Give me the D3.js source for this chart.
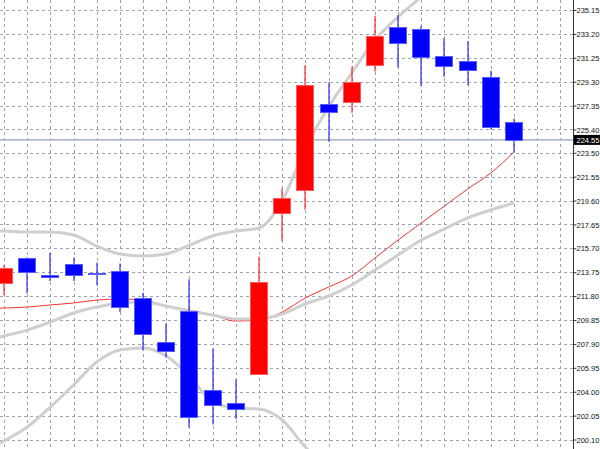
<!DOCTYPE html>
<html>
<head>
<meta charset="utf-8">
<script src="https://cdn.jsdelivr.net/npm/d3@7"></script>
<style>
  body { margin: 0; background: #fff; }
  svg { display: block; }
  .axis text { font-family: "Liberation Sans", Arial, sans-serif; font-size: 7.5px; fill: #111; }
</style>
</head>
<body>
<div class="chart"></div>
<script>
const W = 600, H = 449;
const plotRight = 573;

// candles: open, high, low, close (bar 0 .. 22)
const opens  = [212.85, 214.89, 213.54, 214.44, 213.70, 213.85, 211.62, 208.05, 210.56, 204.14, 203.10, 205.45,
                218.62, 220.50, 227.45, 227.61, 230.66, 233.79, 233.57, 231.39, 231.01, 229.65, 225.97];
const highs  = [214.32, 214.97, 215.32, 214.95, 214.54, 214.46, 212.08, 209.58, 213.17, 207.51, 205.00, 215.02,
                220.58, 230.66, 229.24, 230.52, 234.68, 234.74, 233.84, 232.84, 232.62, 230.19, 226.30];
const lows   = [211.87, 212.03, 213.03, 213.03, 212.68, 210.50, 207.40, 206.80, 201.08, 201.33, 201.77, 205.40,
                216.30, 218.87, 224.39, 226.76, 230.11, 230.47, 228.97, 229.70, 229.02, 225.40, 223.57];
const closes = [214.07, 213.74, 213.38, 213.56, 213.68, 210.91, 208.68, 207.31, 201.92, 202.91, 202.55, 212.93,
                219.82, 229.02, 226.84, 229.29, 233.03, 232.43, 231.29, 230.57, 230.25, 225.62, 224.55];

// moving average (red) and bands (gray), starting one bar before bar 0 (off the left edge)
const maRed   = [210.76, 210.83, 210.91, 211.08, 211.24, 211.48, 211.56, 211.48, 210.99, 210.67, 210.26, 209.77, 209.85,
                 210.50, 211.65, 212.54, 213.44, 214.91, 216.38, 217.77, 219.15, 220.54, 221.85, 223.56];
const bandMid = [208.10, 208.55, 209.03, 209.69, 210.42, 210.91, 211.24, 211.32, 210.99, 210.59, 210.26, 209.93, 209.93,
                 210.34, 211.16, 211.81, 212.71, 213.93, 215.16, 216.38, 217.28, 218.18, 218.83, 219.40];
const bandUp  = [217.15, 217.11, 217.03, 217.03, 216.79, 215.89, 215.24, 215.07, 215.24, 215.97, 216.71, 217.11, 217.36,
                 219.56, 223.89, 227.23, 230.01, 232.70, 234.58, 236.21];
const bandLow = [199.00, 199.98, 201.12, 202.75, 204.55, 206.42, 207.40, 207.57, 206.91, 205.28, 203.16, 202.67, 202.59,
                 201.69, 199.49, 197.80];

const priceTicks = [235.15, 233.20, 231.25, 229.30, 227.35, 225.40, 223.50, 221.55, 219.60, 217.65, 215.70,
                    213.75, 211.80, 209.85, 207.90, 205.95, 204.00, 202.05, 200.10];
const lastPrice = 224.55;

const x = d3.scaleLinear().domain([0, 22]).range([4, 514]);
const y = d3.scaleLinear().domain([200.10, 235.15]).range([439.5, 10]);

const svg = d3.select(".chart").append("svg")
    .attr("width", W)
    .attr("height", H);

svg.append("clipPath").attr("id", "plot")
  .append("rect").attr("x", 0).attr("y", 0).attr("width", plotRight).attr("height", H);

const plot = svg.append("g").attr("clip-path", "url(#plot)");

// grid
plot.append("g").selectAll("line.h")
    .data(priceTicks)
    .enter().append("line")
    .attr("x1", 0).attr("x2", plotRight)
    .attr("y1", d => Math.round(y(d)) + 0.5).attr("y2", d => Math.round(y(d)) + 0.5)
    .attr("stroke", "#9ba4b6").attr("stroke-dasharray", "3,3");

plot.append("g").selectAll("line.v")
    .data(d3.range(0, 25))
    .enter().append("line")
    .attr("x1", d => Math.round(x(d)) + 0.5).attr("x2", d => Math.round(x(d)) + 0.5)
    .attr("y1", 0).attr("y2", H)
    .attr("stroke", "#9ba4b6").attr("stroke-dasharray", "3,3");

// last price line
plot.append("line")
    .attr("x1", 0).attr("x2", plotRight)
    .attr("y1", y(lastPrice)).attr("y2", y(lastPrice))
    .attr("stroke", "#b3bac8").attr("stroke-width", 1.6);

// indicator arrays start at bar -1
const line = d3.line().x((d, i) => x(i - 1)).y(d => y(d)).curve(d3.curveMonotoneX);

plot.append("path").datum(maRed)
    .attr("d", line).attr("fill", "none")
    .attr("stroke", "#ff3030").attr("stroke-width", 1);

[bandMid, bandUp, bandLow].forEach(b => {
  plot.append("path").datum(b)
      .attr("d", line).attr("fill", "none")
      .attr("stroke", "#cfcfcf").attr("stroke-width", 3);
});

// candles
const candles = opens.map((o, i) => ({i: i, o: o, h: highs[i], l: lows[i], c: closes[i]}));

const cg = plot.append("g").selectAll("g")
    .data(candles)
    .enter().append("g");

cg.append("line")
    .attr("x1", d => Math.round(x(d.i))).attr("x2", d => Math.round(x(d.i)))
    .attr("y1", d => y(d.h)).attr("y2", d => y(d.l))
    .attr("stroke", d => d.c >= d.o ? "#ff0000" : "#0000ff")
    .attr("stroke-width", 1);

cg.append("rect")
    .attr("x", d => Math.round(x(d.i)) - 8.5)
    .attr("y", d => Math.round(y(Math.max(d.o, d.c))) + 0.5)
    .attr("width", 17)
    .attr("height", d => Math.max(1, Math.round(y(Math.min(d.o, d.c))) - Math.round(y(Math.max(d.o, d.c)))))
    .attr("fill", d => d.c >= d.o ? "#ff0000" : "#0000ff")
    .attr("stroke", d => d.c >= d.o ? "#ff5a5a" : "#5a5aff")
    .attr("stroke-width", 1);

// price axis
const yAxis = d3.axisRight(y)
    .tickValues(priceTicks)
    .tickSize(3)
    .tickFormat(d3.format(".2f"));

const ax = svg.append("g")
    .attr("class", "axis")
    .attr("transform", "translate(" + (plotRight + 0.5) + ",0)")
    .call(yAxis);
ax.select(".domain").attr("stroke", "#333").attr("d", "M0,0V" + H);
ax.selectAll(".tick line").attr("stroke", "#333");
ax.selectAll(".tick text")
    .attr("x", 3).attr("dy", "0.35em");

// last price label
const lp = svg.append("g").attr("transform", "translate(" + (plotRight + 1) + "," + y(lastPrice) + ")");
lp.append("rect").attr("x", 0).attr("y", -5).attr("width", 27).attr("height", 10).attr("fill", "#000");
lp.append("text").attr("x", 2.5).attr("dy", "0.35em")
    .attr("fill", "#fff")
    .style("font-family", "'Liberation Sans', Arial, sans-serif")
    .style("font-size", "7.5px")
    .text(d3.format(".2f")(lastPrice));
</script>
</body>
</html>
